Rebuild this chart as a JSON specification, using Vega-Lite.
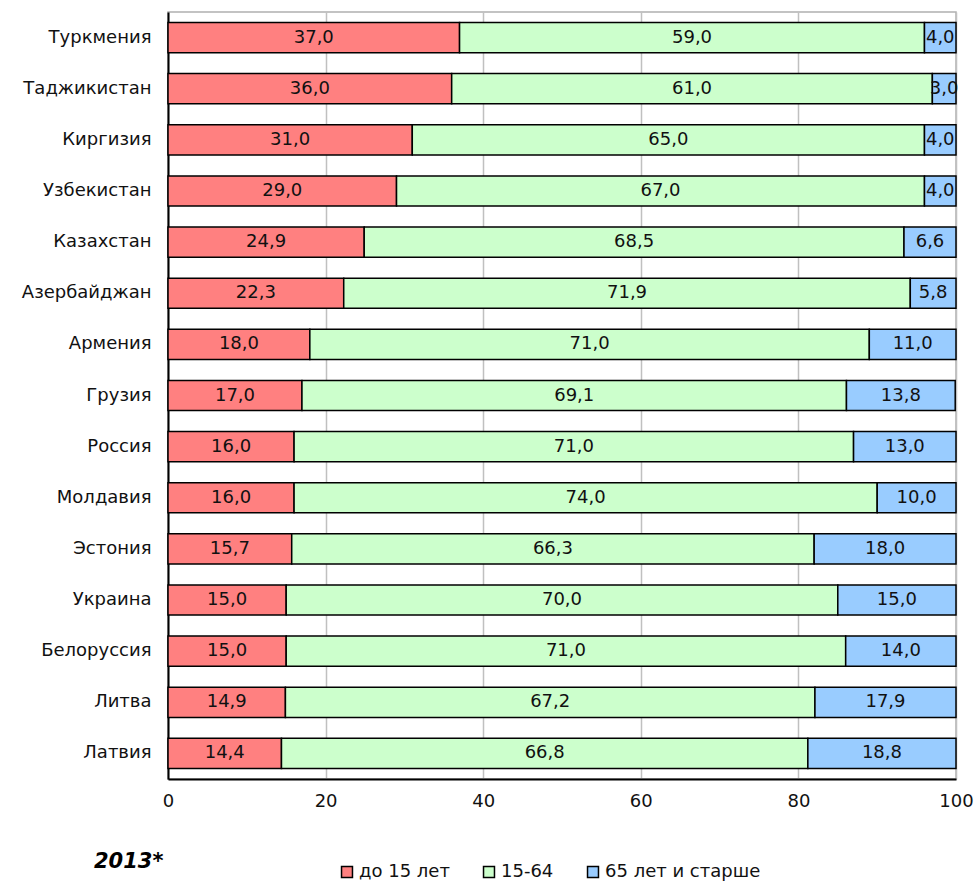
{
  "$schema": "https://vega.github.io/schema/vega-lite/v6.json",
  "autosize": "none",
  "width": 788,
  "height": 767,
  "padding": {"left": 168, "top": 12, "right": 19, "bottom": 105},
  "background": "white",
  "title": {"text": "2013*", "orient": "bottom", "anchor": "start", "frame": "group", "dx": -74, "offset": -30, "font": "DejaVu Sans", "fontSize": 21, "fontWeight": "bold", "fontStyle": "italic", "color": "#000000"},
  "data": {"values": [
    {"country": "Туркмения", "group": "до 15 лет", "i": 1, "value": 37.0},
    {"country": "Туркмения", "group": "15-64", "i": 2, "value": 59.0},
    {"country": "Туркмения", "group": "65 лет и старше", "i": 3, "value": 4.0},
    {"country": "Таджикистан", "group": "до 15 лет", "i": 1, "value": 36.0},
    {"country": "Таджикистан", "group": "15-64", "i": 2, "value": 61.0},
    {"country": "Таджикистан", "group": "65 лет и старше", "i": 3, "value": 3.0},
    {"country": "Киргизия", "group": "до 15 лет", "i": 1, "value": 31.0},
    {"country": "Киргизия", "group": "15-64", "i": 2, "value": 65.0},
    {"country": "Киргизия", "group": "65 лет и старше", "i": 3, "value": 4.0},
    {"country": "Узбекистан", "group": "до 15 лет", "i": 1, "value": 29.0},
    {"country": "Узбекистан", "group": "15-64", "i": 2, "value": 67.0},
    {"country": "Узбекистан", "group": "65 лет и старше", "i": 3, "value": 4.0},
    {"country": "Казахстан", "group": "до 15 лет", "i": 1, "value": 24.9},
    {"country": "Казахстан", "group": "15-64", "i": 2, "value": 68.5},
    {"country": "Казахстан", "group": "65 лет и старше", "i": 3, "value": 6.6},
    {"country": "Азербайджан", "group": "до 15 лет", "i": 1, "value": 22.3},
    {"country": "Азербайджан", "group": "15-64", "i": 2, "value": 71.9},
    {"country": "Азербайджан", "group": "65 лет и старше", "i": 3, "value": 5.8},
    {"country": "Армения", "group": "до 15 лет", "i": 1, "value": 18.0},
    {"country": "Армения", "group": "15-64", "i": 2, "value": 71.0},
    {"country": "Армения", "group": "65 лет и старше", "i": 3, "value": 11.0},
    {"country": "Грузия", "group": "до 15 лет", "i": 1, "value": 17.0},
    {"country": "Грузия", "group": "15-64", "i": 2, "value": 69.1},
    {"country": "Грузия", "group": "65 лет и старше", "i": 3, "value": 13.8},
    {"country": "Россия", "group": "до 15 лет", "i": 1, "value": 16.0},
    {"country": "Россия", "group": "15-64", "i": 2, "value": 71.0},
    {"country": "Россия", "group": "65 лет и старше", "i": 3, "value": 13.0},
    {"country": "Молдавия", "group": "до 15 лет", "i": 1, "value": 16.0},
    {"country": "Молдавия", "group": "15-64", "i": 2, "value": 74.0},
    {"country": "Молдавия", "group": "65 лет и старше", "i": 3, "value": 10.0},
    {"country": "Эстония", "group": "до 15 лет", "i": 1, "value": 15.7},
    {"country": "Эстония", "group": "15-64", "i": 2, "value": 66.3},
    {"country": "Эстония", "group": "65 лет и старше", "i": 3, "value": 18.0},
    {"country": "Украина", "group": "до 15 лет", "i": 1, "value": 15.0},
    {"country": "Украина", "group": "15-64", "i": 2, "value": 70.0},
    {"country": "Украина", "group": "65 лет и старше", "i": 3, "value": 15.0},
    {"country": "Белоруссия", "group": "до 15 лет", "i": 1, "value": 15.0},
    {"country": "Белоруссия", "group": "15-64", "i": 2, "value": 71.0},
    {"country": "Белоруссия", "group": "65 лет и старше", "i": 3, "value": 14.0},
    {"country": "Литва", "group": "до 15 лет", "i": 1, "value": 14.9},
    {"country": "Литва", "group": "15-64", "i": 2, "value": 67.2},
    {"country": "Литва", "group": "65 лет и старше", "i": 3, "value": 17.9},
    {"country": "Латвия", "group": "до 15 лет", "i": 1, "value": 14.4},
    {"country": "Латвия", "group": "15-64", "i": 2, "value": 66.8},
    {"country": "Латвия", "group": "65 лет и старше", "i": 3, "value": 18.8}
  ]},
  "transform": [
    {"stack": "value", "groupby": ["country"], "sort": [{"field": "i", "order": "ascending"}], "as": ["v0", "v1"]},
    {"calculate": "(datum.v0 + datum.v1) / 2", "as": "mid"}
  ],
  "encoding": {
    "y": {"field": "country", "type": "nominal", "sort": null, "title": null,
      "scale": {"paddingInner": 0.41, "paddingOuter": 0.205},
      "axis": {"ticks": false, "labelPadding": 17, "labelFont": "DejaVu Sans", "labelFontSize": 18, "labelColor": "#111111", "domainColor": "#000000", "domainWidth": 2}}
  },
  "layer": [
    {
      "mark": {"type": "bar", "stroke": "#000000", "strokeWidth": 1.5},
      "encoding": {
        "x": {"field": "v0", "type": "quantitative", "title": null,
          "scale": {"domain": [0, 100], "nice": false},
          "axis": {"values": [0, 20, 40, 60, 80, 100], "ticks": false, "labelPadding": 13, "labelFont": "DejaVu Sans", "labelFontSize": 18, "labelColor": "#111111", "domainColor": "#000000", "domainWidth": 2, "grid": true, "gridColor": "#c0c0c0", "gridWidth": 1.5, "labelFlush": false}},
        "x2": {"field": "v1"},
        "color": {"field": "group", "type": "nominal", "sort": null,
          "scale": {"domain": ["до 15 лет", "15-64", "65 лет и старше"], "range": ["#FF8080", "#CCFFCC", "#99CCFF"]},
          "legend": {"title": null, "orient": "none", "direction": "horizontal", "legendX": 170, "legendY": 851, "symbolType": "square", "symbolSize": 120, "symbolStrokeColor": "#000000", "symbolStrokeWidth": 1.5, "labelFont": "DejaVu Sans", "labelFontSize": 18, "labelColor": "#111111", "labelOffset": 3, "columnPadding": 30, "symbolOpacity": 1}}
      }
    },
    {
      "mark": {"type": "text", "font": "DejaVu Sans", "fontSize": 18, "color": "#111111", "align": "center", "baseline": "middle"},
      "encoding": {
        "x": {"field": "mid", "type": "quantitative"},
        "text": {"field": "value", "type": "quantitative", "format": ".1f"}
      }
    }
  ],
  "config": {
    "view": {"stroke": "#b0b0b0", "strokeWidth": 1.5},
    "locale": {"number": {"decimal": ",", "thousands": "\u00a0", "grouping": [3], "currency": ["", ""]}}
  }
}
